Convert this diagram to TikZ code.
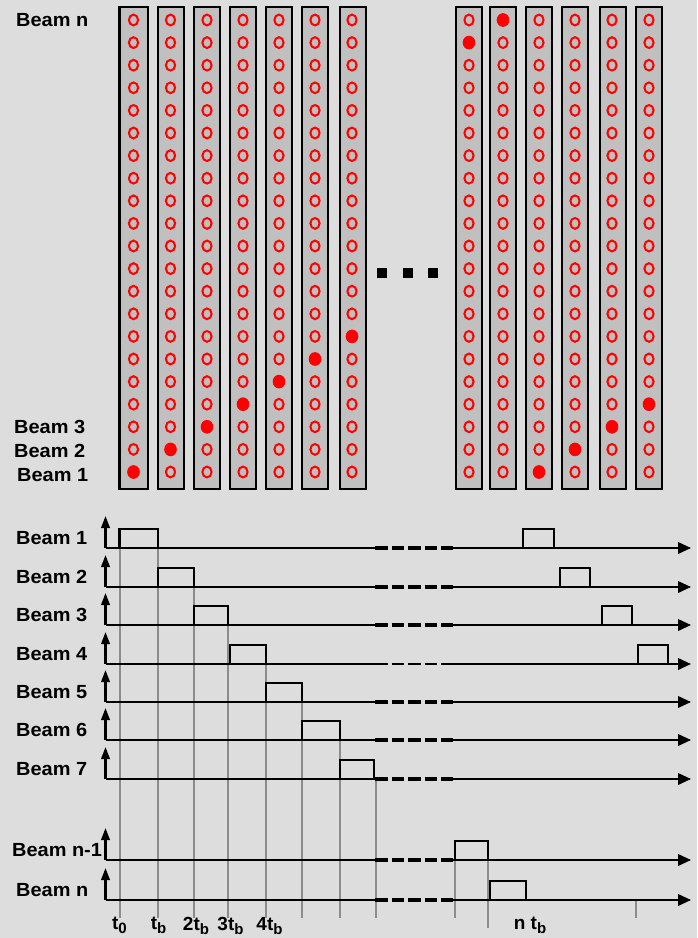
\documentclass[tikz,border=0pt]{standalone}
\usepackage{graphicx}
\usepackage{fontspec}
\setmainfont{Liberation Sans}
\usepackage{tikz}
\usetikzlibrary{arrows.meta}
\definecolor{panelGray}{RGB}{221,221,221}
\definecolor{stripGray}{RGB}{192,192,192}
\definecolor{markGray}{RGB}{140,140,140}
\definecolor{spotRed}{RGB}{255,0,0}
\newcommand{\beamName}[1]{\scalebox{1.05}[1]{#1}}
\newcommand{\tsub}[1]{\raisebox{-4pt}{\fontsize{15}{15}\selectfont #1}}

\begin{document}
\begin{tikzpicture}[
    x=1pt, y=-1pt,
    beamLabel/.style={
        anchor=west,
        inner sep=0pt,
        font=\fontsize{19}{20}\selectfont\bfseries
    },
    timeLabel/.style={
        anchor=north,
        inner sep=0pt,
        font=\fontsize{19}{20}\selectfont\bfseries
    },
    beamColumn/.style={draw=black, line width=2.2pt, fill=stripGray},
    openSpot/.style={draw=spotRed, line width=2pt},
    hitSpot/.style={draw=spotRed, fill=spotRed, line width=1pt},
    axisLine/.style={line width=2.2pt, draw=black},
    yArrow/.style={axisLine, -{Triangle[length=12pt, width=8.5pt]}},
    xArrow/.style={axisLine, -{Triangle[length=13pt, width=11.5pt]}},
    gapDash/.style={line width=4.2pt, dash pattern=on 12.5pt off 4pt},
    pulseLine/.style={line width=2.2pt, draw=black},
    timeMark/.style={line width=2pt, draw=markGray}
]
    \useasboundingbox (0,0) rectangle (697,938);
    \fill[panelGray] (0,0) rectangle (697,938);

    % detector strips
    \foreach \lx/\rx in {119.5/148, 158/184, 194/220, 230/256, 266/292, 302/328, 340/366,
                         456/482, 490/516, 526/552, 562/588, 600/626, 636/662}
        \draw[beamColumn] (\lx,7) rectangle (\rx,489);

    % spots per beam
    \foreach \cx in {133.5, 170.5, 207, 243, 279, 315, 352, 469, 503, 539, 575, 612, 649}
        \foreach \r in {1,...,21}
            \draw[openSpot] (\cx,{472-22.6*(\r-1)}) ellipse [x radius=4.6pt, y radius=5.4pt];

    % active beam in each strip
    \foreach \cx/\r in {133.5/1, 170.5/2, 207/3, 243/4, 279/5, 315/6, 352/7,
                        469/20, 503/21, 539/1, 575/2, 612/3, 649/4}
        \filldraw[hitSpot] (\cx,{472-22.6*(\r-1)}) ellipse [x radius=5.8pt, y radius=6.3pt];

    % gap between the two groups
    \foreach \cx in {381.7, 407.7, 432.7}
        \fill[black] (\cx-5,267.7) rectangle (\cx+5,277.7);

    \node[beamLabel] (topBeamN) at (16,20) {\beamName{Beam n}};
    \node[beamLabel] (topBeamThree) at (14,427) {\beamName{Beam 3}};
    \node[beamLabel] (topBeamTwo) at (14,451) {\beamName{Beam 2}};
    \node[beamLabel] (topBeamOne) at (17,475) {\beamName{Beam 1}};

    % time markers
    \foreach \x/\top/\bot in {119.5/530/918, 158/530/918, 194/568/918, 228/606/918,
                              266/645/918, 302/683/918, 340/721/918, 375.5/779/918,
                              455/860/918, 488/841/928, 636/900/918}
        \draw[timeMark] (\x,\top) -- (\x,\bot);

    % time axes
    \foreach \y/\lab/\nm/\lx in {548/Beam 1/bA/16, 587/Beam 2/bB/16, 625/Beam 3/bC/16,
                                 664/Beam 4/bD/16, 702/Beam 5/bE/16, 740/Beam 6/bF/16,
                                 779/Beam 7/bG/16, 860/Beam n-1/bH/12, 900/Beam n/bI/16}
    {
        \node[beamLabel] (label\nm) at (\lx,\y-10) {\beamName{\lab}};
        \coordinate (origin\nm) at (105.5,\y);
        \coordinate (top\nm) at (105.5,\y-32);
        \coordinate (gapIn\nm) at (375,\y);
        \coordinate (gapOut\nm) at (453,\y);
        \coordinate (end\nm) at (691,\y);
        \draw[yArrow] (origin\nm) -- (top\nm);
        \draw[axisLine] (origin\nm) -- (gapIn\nm);
        \draw[xArrow] (gapOut\nm) -- (end\nm);
    }
    \foreach \nm in {bA, bB, bC, bE, bF, bG, bH, bI}
        \draw[gapDash] (gapIn\nm) -- (gapOut\nm);
    \draw[gapDash, line width=2.2pt] (gapInbD) -- (gapOutbD);

    % beam pulses
    \foreach \y/\a/\b in {548/119.5/158, 587/158/194, 625/194/228, 664/230/266,
                          702/266/302, 740/302/340, 779/340/374,
                          548/523/554, 587/560/590, 625/602/632, 664/638/668,
                          860/455/488, 900/490/526}
        \draw[pulseLine] (\a,\y) -- (\a,\y-19) -- (\b,\y-19) -- (\b,\y);

    \node[timeLabel] (tZero) at (119.5,917) {t\tsub{0}};
    \node[timeLabel] (tOne) at (158.5,917) {t\tsub{b}};
    \node[timeLabel] (tTwo) at (196,917) {2t\tsub{b}};
    \node[timeLabel] (tThree) at (230.5,917) {3t\tsub{b}};
    \node[timeLabel] (tFour) at (269.5,917) {4t\tsub{b}};
    \node[timeLabel] (tLast) at (530,917) {n t\tsub{b}};
\end{tikzpicture}
\end{document}
